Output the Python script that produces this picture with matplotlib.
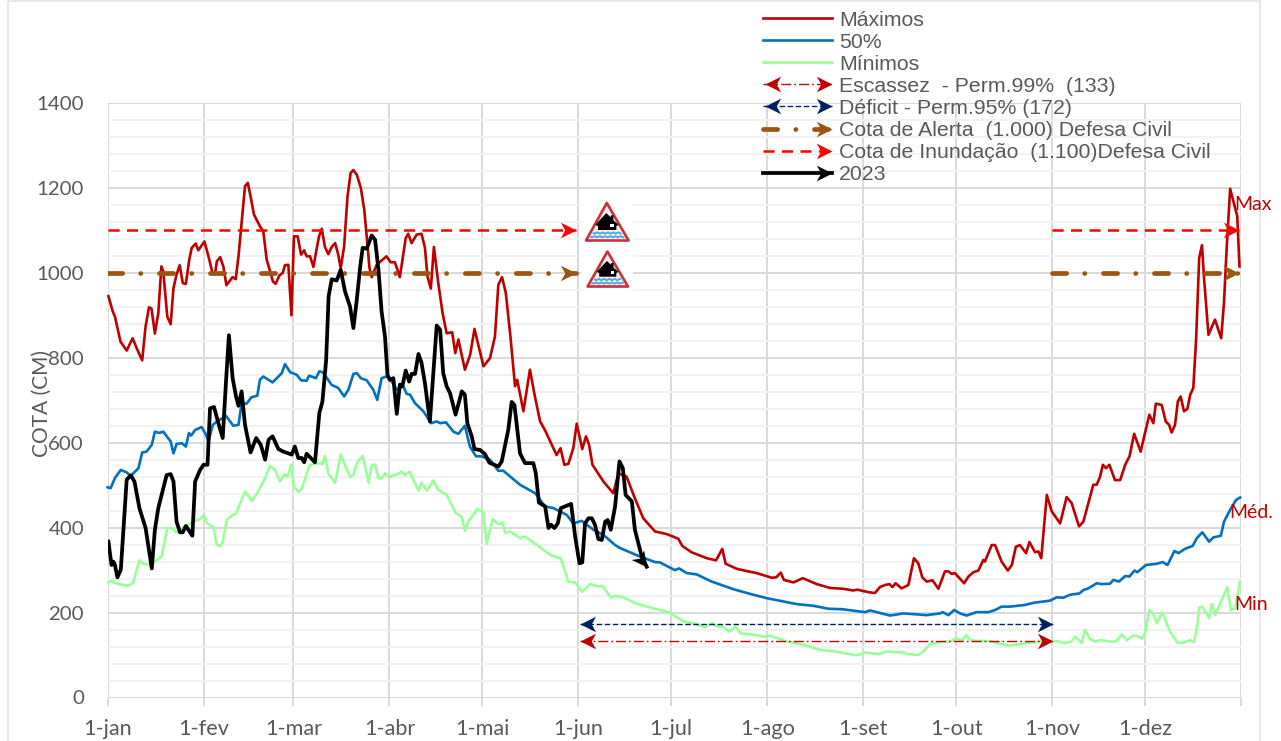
import matplotlib
matplotlib.use("Agg")
import matplotlib.pyplot as plt
import numpy as np
from matplotlib.lines import Line2D
from matplotlib.markers import MarkerStyle
from matplotlib.path import Path
from matplotlib.patches import Polygon, Rectangle
from matplotlib.legend_handler import HandlerBase
from matplotlib.transforms import Affine2D

month_days = [0, 31, 60, 91, 121, 152, 182, 213, 244, 274, 305, 335, 366]
month_labels = ["1-jan", "1-fev", "1-mar", "1-abr", "1-mai", "1-jun", "1-jul",
                "1-ago", "1-set", "1-out", "1-nov", "1-dez", ""]

max_days = [0.3,1.7,2.4,4.2,6.2,8.1,9.4,11.2,12.3,13.4,14.2,15.3,16.4,17.4,18,19.3,20.4,21.3,22.3,23.3,24.3,25.3,26.4,27.2,28.5,29.3,31.3,32.6,33.9,34.7,35.3,36.4,37.4,38.4,40.4,41.4,42.3,43.3,44.4,45.3,46.2,47.3,49.2,50.3,51.4,52.5,53.4,54.3,55.5,56.6,57.3,58.4,59.4,60.2,61.4,62.5,63.5,64.3,65.4,66.5,67.5,68.3,69.2,70.2,71.3,72.4,73.5,74.5,75.3,76.4,77.5,78.5,79.4,80.5,81.8,82.9,83.7,84.6,85.3,86.9,90.1,91.4,92.8,94.4,96.3,97.1,98.2,99.8,101.4,102.5,103.3,104.4,105.4,106.8,108.2,109.5,111.3,112.3,113.3,115.4,117.1,118.5,121.4,123.5,125.1,126.2,127.4,128.6,130,131.6,132.3,134.3,136.4,138,139.7,141.3,145,146.3,147.5,148.8,150.4,151.5,153.3,154.5,155.5,156.6,160.1,163.3,165,167.6,170.3,173,176.8,180.5,184.3,185.6,188.6,193.5,196.5,198.5,199.6,203.2,206.9,209.6,214.5,215.9,217.4,218.4,221.5,224.5,229,233.3,237.6,240.8,242.1,245.7,247.8,249.4,251.1,252.5,253.4,254.5,256.4,258.6,260.4,261.8,263.1,264.5,266.4,268.3,270.4,271.5,272.6,273.6,276.6,278,279.6,281.2,282.8,283.3,285.5,286.6,288.7,290.7,292,293.3,294.6,296.6,297.7,299.5,300.6,301.5,303.3,304.9,307.6,309.7,311.3,313.7,315.1,318.3,319.4,320.5,321.4,322.4,323.5,325.3,327,328.6,330,331.5,333.6,336.4,337.7,338.5,340.4,341.7,342.8,343.6,344.7,345.6,346.5,347.6,348.7,349.6,350.6,351.5,352.5,353.4,354.1,355.5,357.6,359.6,360.5,361.4,362.5,364.1,364.8,365.5]
max_vals = [945,909,897,838,817,846,823,794,874,919,916,857,905,1015,1004,897,879,964,996,1018,976,974,1031,1059,1069,1053,1074,1039,1000,996,1027,1037,1015,971,990,985,1039,1117,1204,1212,1180,1137,1110,1098,1031,1004,980,974,994,1000,1018,1019,900,1086,1086,1043,1053,1039,1039,1014,1055,1086,1104,1061,1044,1061,1070,1043,1011,1062,1180,1235,1242,1231,1200,1149,1086,1011,990,1019,1039,1025,1025,990,1082,1092,1070,1090,1092,1059,992,963,1061,976,905,858,860,811,843,772,807,868,780,799,850,972,990,953,858,733,748,674,772,709,650,629,571,587,548,550,587,645,585,615,595,548,509,481,528,520,469,422,391,385,374,357,342,328,323,350,315,303,297,293,282,283,294,277,271,281,267,258,256,252,254,248,246,260,265,267,260,269,257,265,328,316,283,273,276,256,297,297,291,293,269,285,295,299,324,320,359,359,320,299,312,355,359,340,366,342,344,328,477,438,410,472,458,403,414,501,501,520,548,540,548,512,512,548,568,621,579,666,646,692,689,650,642,624,642,697,709,674,680,713,729,842,1035,1065,984,854,890,846,929,1062,1198,1153,1133,1015]

med_days = [0,1,2.4,4.3,6.2,7.5,10,11.2,12.6,14.3,15.3,16.7,18,20.4,21.3,22.3,24,25.3,26.3,27,28.3,30.4,31.8,32.6,34,35.3,38.3,40.6,42.3,43.3,44.9,46.5,48.4,49.2,50.3,53.3,55.2,56.3,57.3,59,61.1,62.5,64.3,65.1,67.3,68.4,69.5,72.4,74.5,76.4,77.8,79.4,80.5,81.8,83.7,85.8,87.1,88.5,90.1,91.8,93.4,95.5,96.6,97.7,99.3,102,104.5,106.3,107.4,109.3,111.7,113.3,115.4,117,119,120.8,123.5,126.2,127.8,133.2,138.1,141.3,144,148.3,150.4,153.1,156.9,160.1,163.9,165.5,171.9,176.8,178.4,183.2,184.6,187,190.2,195.1,202.1,207.5,212.8,222.5,227.9,232.8,237.1,244.6,246.2,252.7,257,264.5,268.8,269.7,271.5,273.4,275.3,277.4,280.6,284.4,286.6,288.7,291.4,296.3,299,304.3,306.5,308.6,310.8,313.8,315.1,316.7,319.4,321,323.7,324.8,326.6,328.6,330,331.6,332.5,335.3,337.7,338.8,340.7,342.3,344.5,345.8,347.9,350.4,351.7,353.5,355.7,357.1,359.5,360.5,362.5,364.4,365.7]
med_vals = [495,493,517,536,530,522,540,577,579,595,626,623,626,603,575,597,599,591,623,617,630,637,619,603,642,650,663,640,642,693,692,707,711,748,756,742,756,764,785,766,760,747,746,758,752,768,766,736,729,709,725,762,764,752,747,725,701,752,756,744,725,733,715,713,693,674,646,650,646,648,626,621,640,591,568,568,560,534,534,501,481,450,446,430,410,416,395,383,359,352,332,319,318,300,304,293,290,273,255,244,234,220,216,209,208,201,205,193,198,194,198,201,194,206,198,193,201,201,206,214,214,218,223,228,236,235,242,245,253,257,269,267,268,277,273,286,285,299,295,312,314,315,319,312,345,340,350,357,375,389,367,377,381,414,442,465,471]

min_days = [0.3,1.3,2.4,3.8,5.7,7,8.3,10.3,11.6,13.7,15.3,17.5,19.3,20.7,22.3,24,25.6,27.7,29.3,31.2,32.2,34.2,35.3,36.3,37.2,38.5,40.1,41.5,44.4,46.6,48.2,50.9,52.5,54.1,55.7,57.3,58.1,59.3,60.2,61.6,62.7,65.2,66.5,68.8,69.5,70.2,71.3,73.5,75.3,78.3,79.4,80.5,82.4,84.3,85.3,86.4,87.5,88.5,89.6,91,93.9,95,96.1,97.5,100.4,101.4,103.1,105.2,106.8,109.5,112.5,114.4,115.4,116.5,119.4,121.4,122.4,124.4,126.2,127.6,128.4,130,133.2,134.8,136.4,140.7,143.4,146.3,148.8,150.9,153.3,155.8,159,159.9,162.5,163.9,166.6,170.3,175.2,181.6,185.9,190.2,192.9,195.3,196.7,198.8,200.7,202.8,204.4,209.6,211.8,213.9,219.3,224.7,230.1,235.4,240.8,242.4,244.6,248.9,251.6,257,258.6,261.8,263.4,265.6,268.8,272,274.2,275.8,277.4,278.5,280.6,284.4,287.6,291,294.6,301.1,305.4,307,309.2,311.3,312.4,314.6,315.6,317.3,318.9,320.5,324.8,326.1,327.5,329.1,331.3,332.5,334,335,336.4,337.7,338.8,340.6,343.1,345.6,346.9,348.5,349.6,350.8,351.7,352.5,353.5,355.7,356.6,357.6,361.6,362.7,364.1,365.7]
min_vals = [271,275,269,267,264,264,271,323,315,312,320,332,399,399,389,399,404,416,418,429,410,401,359,356,365,418,428,433,485,463,479,517,546,536,509,526,520,548,497,484,491,546,550,552,550,569,528,505,572,520,524,552,569,506,548,548,516,516,528,519,527,532,524,532,487,506,487,511,489,477,434,425,393,414,444,436,362,420,408,412,388,391,375,379,371,348,334,328,273,271,249,267,261,263,235,239,236,222,212,200,179,173,165,175,167,167,155,167,151,147,143,146,132,124,112,108,100,100,106,102,108,106,102,100,108,126,130,132,139,134,147,136,133,133,128,122,126,132,133,132,128,132,143,128,159,137,132,135,131,134,149,135,146,145,139,151,206,198,175,200,155,128,129,132,135,130,159,212,214,187,220,194,260,206,210,273]

y2023_days = [0.3,1.3,1.9,2.4,3.2,4.3,5.3,6.2,7.5,8.7,10.3,12.3,14.3,15.3,16.4,19.1,20.4,21.3,22.3,23.4,24.3,25.3,27.4,28.3,29.9,31,32.3,33.1,34.4,35.8,37.2,38.3,39.2,40.4,41.5,42.3,43.3,44.4,46.2,48,49.5,50.9,52,53.3,55.2,56.8,58.4,59.5,60.5,61.6,62.7,63.5,64.3,67,67.8,68.4,69.4,70.6,71.4,72.4,74,75.3,76.7,78.3,79.4,80.5,81.6,82.4,83.7,85.3,86.4,87.5,88.5,89.6,90.4,91.2,92.3,93.4,94.4,95.2,96.3,97.4,98.2,99.3,100.4,101.4,102.5,104.1,105.2,106.3,107.4,108.4,109.5,110.6,112.4,114.4,115.4,116.2,117.6,118.5,120.3,121.9,123.3,126.2,127.3,129.4,130.5,131.4,133.2,134.8,137.5,138.3,139.3,141.3,142.4,143.2,144.3,145.4,146.4,149.7,151,152.4,153.3,154.2,155.3,156.4,157.4,158.5,159.6,160.7,161.5,162.5,163.9,165.3,166.4,167.3,169.3,170.3,172.5,174.1]
y2023_vals = [367,312,320,312,283,301,411,513,523,509,446,399,304,395,446,524,526,509,414,389,389,404,381,509,536,548,548,681,684,646,611,748,853,752,709,687,721,642,577,611,595,560,607,615,585,579,575,572,591,564,564,554,574,554,622,670,697,795,945,985,982,1007,956,921,870,937,1015,1059,1057,1088,1078,1007,909,850,760,748,752,668,737,733,770,744,762,762,809,788,740,650,764,876,866,764,733,717,666,721,713,646,615,585,583,573,553,544,556,630,696,689,575,552,552,528,459,450,399,407,399,410,446,456,379,316,318,410,422,422,407,373,371,414,418,395,450,556,540,477,462,395,332,308]

escassez_level = 133
deficit_level = 172
alerta_level = 1000
inundacao_level = 1100
first_span = [0, 151.4]
last_span = [305, 365.4]
drought_span = [152.6, 305.3]

GRID_MAJOR = "#D9D9D9"
GRID_MINOR = "#F2F2F2"
TXT = "#595959"
RED = "#C00000"
BLUE = "#0070C0"
GREEN = "#99FF99"
ALERT = "#9C5510"
FLOOD = "#FF0000"
NAVY = "#002060"

plt.rcParams["lines.scale_dashes"] = False
plt.rcParams["font.family"] = ["Lato", "DejaVu Sans"]

W, H = 1281, 741
fig = plt.figure(figsize=(W / 100, H / 100), dpi=100, facecolor="white")
px = Affine2D().scale(1 / W, -1 / H).translate(0, 1) + fig.transFigure

L, R, T, B = 107.5, 1241, 103, 697.5
ax = fig.add_axes([L / W, 1 - B / H, (R - L) / W, (B - T) / H])
ax.set_xlim(0, 366)
ax.set_ylim(0, 1400)
ax.set_facecolor("none")
for s in ax.spines.values():
    s.set_visible(False)

fig.add_artist(Rectangle((7.5, 1), 1252.5, 760, transform=px, fill=False,
                         edgecolor="#E4E4E4", linewidth=1.2, zorder=-5))

ax.set_axisbelow(True)
ax.set_yticks(np.arange(0, 1401, 200))
ax.set_yticks(np.arange(0, 1401, 40), minor=True)
ax.set_xticks(month_days)
ax.set_xticklabels(month_labels)
ax.grid(True, which="major", color=GRID_MAJOR, linewidth=1.4, zorder=0.6)
ax.grid(True, which="minor", axis="y", color=GRID_MINOR, linewidth=1.4, zorder=0.5)
ax.tick_params(axis="y", which="both", length=0, pad=17, labelsize=14.7, labelcolor=TXT)
ax.tick_params(axis="x", length=5.8, width=1.4, color=GRID_MAJOR, pad=10, labelsize=15.6, labelcolor=TXT)
ax.set_ylabel("COTA (CM)", fontsize=15, color=TXT, va="center")
ax.yaxis.set_label_coords((41.5 - L) / (R - L), (B - 404) / (B - T))


def stealth(angle=0.0):
    verts = [(0, 0), (-1, 0.5), (-0.72, 0), (-1, -0.5), (0, 0)]
    codes = [Path.MOVETO, Path.LINETO, Path.LINETO, Path.LINETO, Path.CLOSEPOLY]
    return MarkerStyle(Path(verts, codes)).rotated(deg=angle)


DASH_ESC = (0, (7.2, 2.2, 1.2, 2.2))
DASH_DEF = (0, (4.0, 1.8))
DASH_ALERT = (0, (10.2, 13.0, 0.1, 13.4))
DASH_FLOOD = (0, (8.0, 5.3))
ARROW = 22.5


def arrow_at(x, y, color, angle=0.0, size=ARROW, z=4):
    ax.plot([x], [y], linestyle="none", marker=stealth(angle), markersize=size,
            markerfacecolor=color, markeredgecolor="none", zorder=z, clip_on=False)


l_max, = ax.plot(max_days, max_vals, color=RED, lw=1.9, label="Máximos", zorder=3, clip_on=False)
l_med, = ax.plot(med_days, med_vals, color=BLUE, lw=1.9, label="50%", zorder=3.1, clip_on=False)
l_min, = ax.plot(min_days, min_vals, color=GREEN, lw=1.9, label="Mínimos", zorder=3.2, clip_on=False)

l_esc, = ax.plot(drought_span, [escassez_level] * 2, color=RED, lw=1.0, linestyle=DASH_ESC,
                 label="Escassez  - Perm.99%  (133)", zorder=3.4)
l_def, = ax.plot(drought_span, [deficit_level] * 2, color=NAVY, lw=1.0, linestyle=DASH_DEF,
                 label="Déficit - Perm.95% (172)", zorder=3.4)
for lvl, col in ((escassez_level, RED), (deficit_level, NAVY)):
    arrow_at(drought_span[0], lvl, col, 180)
    arrow_at(drought_span[1], lvl, col, 0)

l_ale, = ax.plot(first_span, [alerta_level] * 2, color=ALERT, lw=3.4, linestyle=DASH_ALERT,
                 dash_capstyle="round", label="Cota de Alerta  (1.000) Defesa Civil", zorder=3.5)
ax.plot(last_span, [alerta_level] * 2, color=ALERT, lw=3.4, linestyle=DASH_ALERT,
        dash_capstyle="round", zorder=3.5)
l_flo, = ax.plot(first_span, [inundacao_level] * 2, color=FLOOD, lw=1.8, linestyle=DASH_FLOOD,
                 label="Cota de Inundação  (1.100)Defesa Civil", zorder=3.5)
ax.plot(last_span, [inundacao_level] * 2, color=FLOOD, lw=1.8, linestyle=DASH_FLOOD, zorder=3.5)
for sp in (first_span, last_span):
    arrow_at(sp[1], alerta_level, ALERT)
    arrow_at(sp[1], inundacao_level, FLOOD)

l_23, = ax.plot(y2023_days, y2023_vals, color="black", lw=2.7, label="2023", zorder=5,
                solid_joinstyle="round")
arrow_at(y2023_days[-1], y2023_vals[-1], "black", -52, z=5)

for label, d, v in (("Max", 363.8, 1160), ("Méd.", 362.2, 435), ("Min", 363.7, 218)):
    ax.text(d, v, label, color=RED, fontsize=14, ha="left", va="center", zorder=6, clip_on=False)


class ArrowHandler(HandlerBase):
    def __init__(self, left=False, right=False):
        super().__init__()
        self.left, self.right = left, right

    def create_artists(self, legend, orig, xd, yd, width, height, fontsize, trans):
        y = height / 2 - yd
        x0, x1 = -xd, width - xd
        line = Line2D([x0, x1], [y, y], color=orig.get_color(), lw=orig.get_linewidth(),
                      transform=trans)
        if orig.get_linestyle() != "-":
            line.set_linestyle(orig._unscaled_dash_pattern)
        line.set_dash_capstyle(orig.get_dash_capstyle())
        arts = [line]
        for flag, xx, ang in ((self.left, x0 + 1.4, 180), (self.right, x1, 0)):
            if flag:
                arts.append(Line2D([xx], [y], linestyle="none", marker=stealth(ang), markersize=ARROW,
                                   markerfacecolor=orig.get_color(), markeredgecolor="none",
                                   transform=trans))
        return arts


handles = [l_max, l_med, l_min, l_esc, l_def, l_ale, l_flo, l_23]
hmap = {l_max: ArrowHandler(), l_med: ArrowHandler(), l_min: ArrowHandler(),
        l_esc: ArrowHandler(True, True), l_def: ArrowHandler(True, True),
        l_ale: ArrowHandler(False, True), l_flo: ArrowHandler(False, True),
        l_23: ArrowHandler(False, True)}
leg = fig.legend(handles=handles, handler_map=hmap, loc="upper left",
                 bbox_to_anchor=(763 / W, 1 - 10.5 / H), bbox_transform=fig.transFigure,
                 frameon=False, borderpad=0, borderaxespad=0,
                 labelspacing=0.146, handlelength=3.25, handletextpad=0.34,
                 prop={"family": "Liberation Sans", "size": 15.3})
for t in leg.get_texts():
    t.set_color(TXT)


def flood_icon(xa, ya, xl, xr, yb):
    kw = dict(transform=px, zorder=6)
    fig.add_artist(Polygon([(xa, ya), (xl, yb), (xr, yb)], closed=True, facecolor="#F1F1F1",
                           edgecolor="#C9303A", linewidth=1.9, joinstyle="round", **kw))
    h = yb - ya
    cx = xa + 0.2
    hx = lambda f: cx + f * h
    hy = lambda f: ya + f * h
    house = [(hx(-.02), hy(.27)), (hx(.10), hy(.38)), (hx(.10), hy(.33)), (hx(.17), hy(.33)),
             (hx(.17), hy(.46)), (hx(.31), hy(.58)), (hx(.25), hy(.62)), (hx(.25), hy(.72)),
             (hx(-.24), hy(.72)), (hx(-.24), hy(.62)), (hx(-.31), hy(.58))]
    fig.add_artist(Polygon(house, closed=True, facecolor="black", edgecolor="none", **kw))
    fig.add_artist(Polygon([(hx(.09), hy(.56)), (hx(.19), hy(.56)), (hx(.19), hy(.65)), (hx(.09), hy(.65))],
                           closed=True, facecolor="white", edgecolor="none", **kw))
    for f, half in ((.80, .36), (.90, .44)):
        xs = np.linspace(hx(-half), hx(half), 25)
        ys = hy(f) + 0.6 * np.sin((xs - xs[0]) * 1.2)
        fig.add_artist(Line2D(xs, ys, color="#52A9D8", lw=1.4, transform=px, zorder=6))


fig.add_artist(Rectangle((581, 197), 52, 95, transform=px, facecolor="white", edgecolor="none", zorder=1.5))
flood_icon(606.8, 203, 586, 628.6, 240.5)
flood_icon(607.4, 251.5, 587.6, 628, 286.5)

fig.savefig("out.png", dpi=100, facecolor="white")
